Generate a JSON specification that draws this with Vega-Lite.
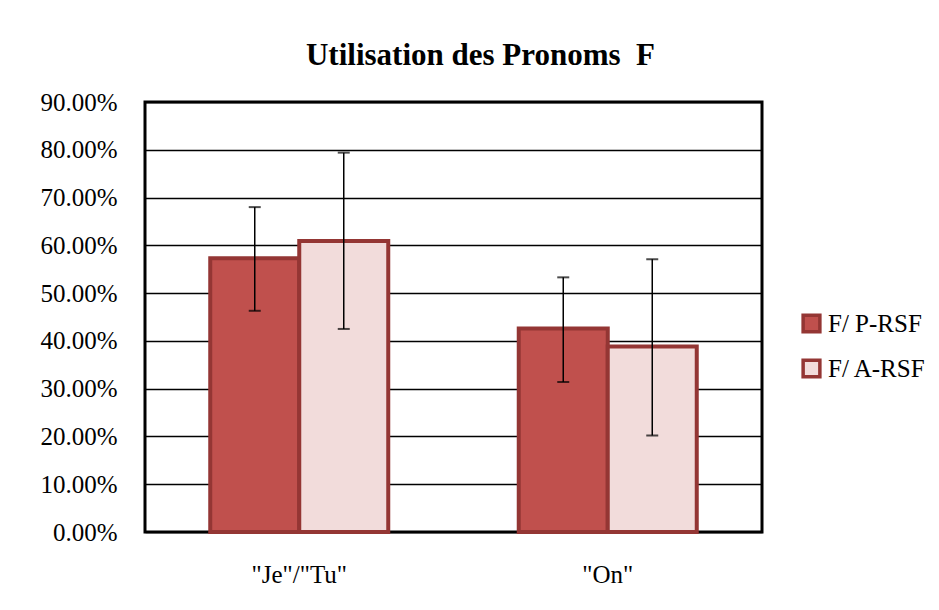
{
  "$schema": "https://vega.github.io/schema/vega-lite/v6.json",
  "width": 617,
  "height": 430,
  "autosize": {"type": "none"},
  "padding": {"left": 145, "top": 102, "right": 177, "bottom": 78},
  "background": "white",
  "title": {
    "text": "Utilisation des Pronoms\u00a0 F",
    "font": "Liberation Serif",
    "fontSize": 31,
    "fontWeight": "bold",
    "color": "black",
    "offset": 18,
    "dx": 27
  },
  "data": {
    "values": [
      {"cat": "\"Je\"/\"Tu\"", "series": "F/ P-RSF", "value": 0.573, "lo": 0.463, "hi": 0.680},
      {"cat": "\"Je\"/\"Tu\"", "series": "F/ A-RSF", "value": 0.609, "lo": 0.425, "hi": 0.794},
      {"cat": "\"On\"", "series": "F/ P-RSF", "value": 0.426, "lo": 0.314, "hi": 0.533},
      {"cat": "\"On\"", "series": "F/ A-RSF", "value": 0.388, "lo": 0.202, "hi": 0.571}
    ]
  },
  "encoding": {
    "x": {
      "field": "cat",
      "type": "nominal",
      "sort": null,
      "title": null,
      "scale": {"paddingInner": 0.423, "paddingOuter": 0.2115},
      "axis": {
        "labelAngle": 0,
        "labelFont": "Liberation Serif",
        "labelFontSize": 25,
        "labelColor": "black",
        "labelPadding": 30,
        "ticks": false,
        "domain": false,
        "grid": false
      }
    },
    "xOffset": {
      "field": "series",
      "type": "nominal",
      "sort": ["F/ P-RSF", "F/ A-RSF"],
      "scale": {"paddingInner": 0, "paddingOuter": 0}
    }
  },
  "layer": [
    {
      "mark": {"type": "bar", "stroke": "#943634", "strokeWidth": 4},
      "encoding": {
        "y": {
          "field": "value",
          "type": "quantitative",
          "title": null,
          "scale": {"domain": [0, 0.9], "nice": false},
          "axis": {
            "format": ".2%",
            "values": [0, 0.1, 0.2, 0.3, 0.4, 0.5, 0.6, 0.7, 0.8, 0.9],
            "labelFont": "Liberation Serif",
            "labelFontSize": 25,
            "labelColor": "black",
            "labelPadding": 28,
            "ticks": false,
            "domain": false,
            "grid": true,
            "gridColor": "black",
            "gridWidth": 1.5,
            "gridOpacity": 1
          }
        },
        "fill": {
          "field": "series",
          "type": "nominal",
          "sort": ["F/ P-RSF", "F/ A-RSF"],
          "scale": {"domain": ["F/ P-RSF", "F/ A-RSF"], "range": ["#C0504D", "#F2DCDB"]},
          "legend": {
            "title": null,
            "orient": "none",
            "legendX": 654,
            "legendY": 209,
            "symbolType": "square",
            "symbolSize": 280,
            "symbolStrokeColor": "#943634",
            "symbolStrokeWidth": 3.5,
            "symbolOpacity": 1,
            "labelFont": "Liberation Serif",
            "labelFontSize": 25,
            "labelColor": "black",
            "labelOffset": 4,
            "rowPadding": 14
          }
        }
      }
    },
    {
      "mark": {"type": "rule", "color": "black", "strokeWidth": 1.5},
      "encoding": {
        "y": {"field": "lo", "type": "quantitative"},
        "y2": {"field": "hi"}
      }
    },
    {
      "mark": {"type": "tick", "color": "black", "thickness": 2, "size": 12},
      "encoding": {"y": {"field": "lo", "type": "quantitative"}}
    },
    {
      "mark": {"type": "tick", "color": "black", "thickness": 2, "size": 12},
      "encoding": {"y": {"field": "hi", "type": "quantitative"}}
    }
  ],
  "config": {
    "view": {"stroke": "black", "strokeWidth": 3}
  }
}
